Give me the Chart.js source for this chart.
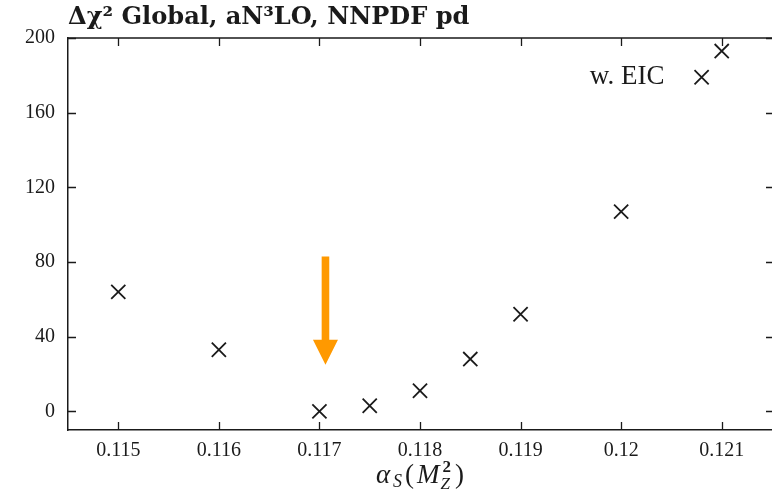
<!DOCTYPE html>
<html>
<head>
<meta charset="utf-8">
<script src="https://cdn.jsdelivr.net/npm/chart.js@4/dist/chart.umd.min.js"></script>
<style>
  html, body { margin: 0; padding: 0; background: #fff; }
  canvas { display: block; }
</style>
</head>
<body>
<canvas id="c" width="772" height="494"></canvas>
<script>
// alpha_s(M_Z^2) values scanned and the resulting global Delta chi^2
const alphaS    = [0.115, 0.116, 0.117, 0.1175, 0.118, 0.1185, 0.119, 0.120, 0.1208, 0.121];
const deltaChi2 = [64,    33,    0,     3,      11,    28,     52,    107,   179,    193];

const xTicks = [0.115, 0.116, 0.117, 0.118, 0.119, 0.120, 0.121];
const yTicks = [0, 40, 80, 120, 160, 200];

// best-fit marker arrow (x position, tail and tip in chi^2 units)
const arrowX = 0.11706;
const arrowTail = 83;
const arrowTip = 25;

// annotation text and its anchor
const noteText = 'w. EIC';
const noteX = 0.12006;
const noteY = 179;

const titleText = 'Δχ² Global, aN³LO, NNPDF pd';

const SERIF = '"Liberation Serif", "DejaVu Serif", serif';
const TITLE_FONT = '"DejaVu Serif", "Liberation Serif", serif';
const INK = '#1a1a1a';

const framePlugin = {
  id: 'frame',
  afterDraw(chart) {
    const { ctx, chartArea: a, scales: { x, y } } = chart;
    // the right edge of the frame sits just past the canvas border
    const rightEdge = a.right + 2;
    ctx.save();
    ctx.strokeStyle = INK;
    ctx.lineWidth = 1.5;
    ctx.beginPath();
    ctx.moveTo(a.left, a.top);
    ctx.lineTo(rightEdge, a.top);
    ctx.lineTo(rightEdge, a.bottom);
    ctx.stroke();
    // inward tick marks on all four sides
    const tl = 8;
    ctx.lineWidth = 1.3;
    ctx.beginPath();
    xTicks.forEach(v => {
      const px = Math.round(x.getPixelForValue(v)) + 0.5;
      ctx.moveTo(px, a.bottom); ctx.lineTo(px, a.bottom - tl);
      ctx.moveTo(px, a.top); ctx.lineTo(px, a.top + tl);
    });
    yTicks.forEach(v => {
      const py = Math.round(y.getPixelForValue(v)) + 0.5;
      ctx.moveTo(a.left, py); ctx.lineTo(a.left + tl, py);
      ctx.moveTo(rightEdge, py); ctx.lineTo(rightEdge - tl, py);
    });
    ctx.stroke();

    // orange arrow pointing at the minimum
    const ax = x.getPixelForValue(arrowX);
    const yTail = y.getPixelForValue(arrowTail);
    const yTip = y.getPixelForValue(arrowTip);
    const headLen = 25, headHalf = 12.5, shaftHalf = 3.8;
    ctx.fillStyle = '#ff9900';
    ctx.beginPath();
    ctx.moveTo(ax - shaftHalf, yTail);
    ctx.lineTo(ax + shaftHalf, yTail);
    ctx.lineTo(ax + shaftHalf, yTip - headLen);
    ctx.lineTo(ax + headHalf, yTip - headLen);
    ctx.lineTo(ax, yTip);
    ctx.lineTo(ax - headHalf, yTip - headLen);
    ctx.lineTo(ax - shaftHalf, yTip - headLen);
    ctx.closePath();
    ctx.fill();

    // annotation
    ctx.fillStyle = INK;
    ctx.font = '27px ' + SERIF;
    ctx.textAlign = 'center';
    ctx.textBaseline = 'middle';
    ctx.fillText(noteText, x.getPixelForValue(noteX), y.getPixelForValue(noteY));

    // title, sized to span from the plot's left edge to x = 470
    ctx.textAlign = 'left';
    ctx.textBaseline = 'alphabetic';
    ctx.font = 'bold 20px ' + TITLE_FONT;
    const tw = ctx.measureText(titleText).width;
    const tsize = Math.min(24.5, Math.max(17, 20 * (470 - a.left) / tw));
    ctx.font = 'bold ' + tsize.toFixed(1) + 'px ' + TITLE_FONT;
    ctx.fillText(titleText, a.left, 24);

    // x-axis label: alpha_S(M_Z^2)
    const cx = 420;
    const base = 483;
    const gap = 3;
    const parts = [
      { t: 'α', f: 'italic 27px ' + SERIF, dy: 0 },
      { t: 'S', f: 'italic 18px ' + SERIF, dy: 4 },
      { t: '(', f: '27px ' + SERIF, dy: 0 },
      { t: 'M', f: 'italic 27px ' + SERIF, dy: 0 },
      { t: '2', f: 'bold 17px ' + SERIF, dy: -11, stack: true },
      { t: 'Z', f: 'italic 17px ' + SERIF, dy: 6 },
      { t: ')', f: '27px ' + SERIF, dy: 0 }
    ];
    let total = 0;
    const widths = parts.map(p => { ctx.font = p.f; return ctx.measureText(p.t).width; });
    parts.forEach((p, i) => { if (!p.stack) total += widths[i] + gap; });
    total -= gap;
    let px = cx - total / 2;
    parts.forEach((p, i) => {
      ctx.font = p.f;
      ctx.fillText(p.t, px + (p.t === 'Z' ? -2 : 0), base + p.dy);
      if (!p.stack) px += widths[i] + gap;
    });
    ctx.restore();
  }
};

new Chart(document.getElementById('c'), {
  type: 'scatter',
  data: {
    datasets: [{
      data: alphaS.map((v, i) => ({ x: v, y: deltaChi2[i] })),
      pointStyle: 'crossRot',
      pointRadius: 10,
      pointHoverRadius: 10,
      borderColor: INK,
      borderWidth: 1.8,
      backgroundColor: INK
    }]
  },
  options: {
    responsive: false,
    devicePixelRatio: 1,
    animation: false,
    layout: { autoPadding: false, padding: { top: 38, right: 0, bottom: 0, left: 0 } },
    plugins: { legend: { display: false }, tooltip: { enabled: false } },
    scales: {
      x: {
        type: 'linear',
        min: 0.1145,
        max: 0.1215,
        afterBuildTicks: s => { s.ticks = xTicks.map(v => ({ value: v })); },
        afterFit: s => { s.height = 64; s.paddingLeft = 0; s.paddingRight = 0; },
        grid: { display: true, drawOnChartArea: false, drawTicks: false },
        border: { display: true, color: INK, width: 1.5 },
        ticks: {
          padding: 9,
          color: INK,
          font: { family: SERIF, size: 20 },
          maxRotation: 0,
          callback: v => String(Number(v.toFixed(4)))
        }
      },
      y: {
        type: 'linear',
        min: -10,
        max: 200,
        afterBuildTicks: s => { s.ticks = yTicks.map(v => ({ value: v })); },
        afterFit: s => { s.width = 68; s.paddingTop = 0; s.paddingBottom = 0; },
        grid: { display: true, drawOnChartArea: false, drawTicks: false },
        border: { display: true, color: INK, width: 1.5 },
        ticks: {
          padding: 13,
          color: INK,
          font: { family: SERIF, size: 20 },
          callback: v => String(v)
        }
      }
    }
  },
  plugins: [framePlugin]
});
</script>
</body>
</html>
